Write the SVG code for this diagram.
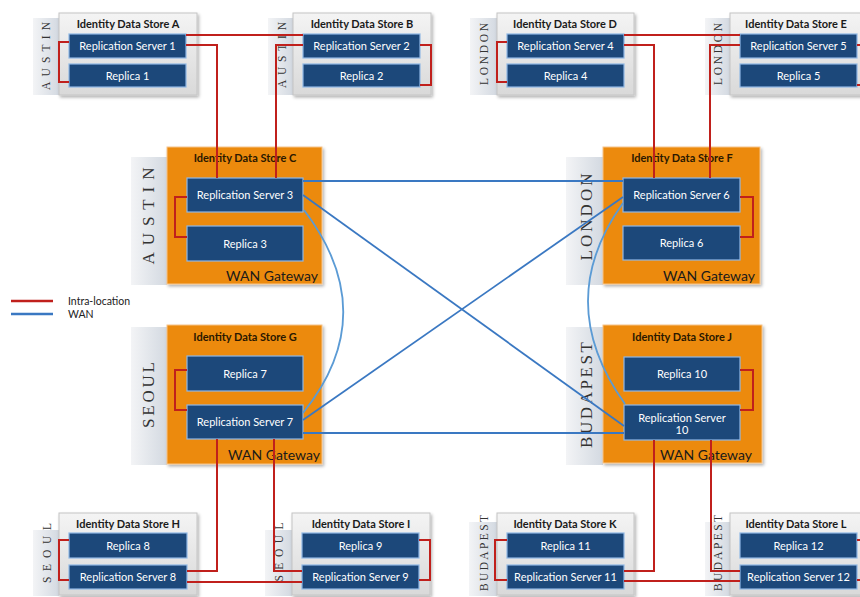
<svg xmlns="http://www.w3.org/2000/svg" width="860" height="597" viewBox="0 0 860 597">
<defs>
<linearGradient id="gBox" x1="0" y1="0" x2="0" y2="1"><stop offset="0" stop-color="#f4f4f4"/><stop offset="1" stop-color="#d9d9d9"/></linearGradient>
<linearGradient id="gCol" x1="0" y1="0" x2="1" y2="0"><stop offset="0" stop-color="#f3f4f6"/><stop offset="1" stop-color="#d3d9e1"/></linearGradient>
<filter id="sh" x="-10%" y="-10%" width="125%" height="125%"><feDropShadow dx="1.5" dy="2" stdDeviation="1.5" flood-color="#000" flood-opacity="0.3"/></filter>
</defs>
<style>
.col{fill:url(#gCol);}
.gbox{fill:url(#gBox);stroke:#c4c4c4;stroke-width:1;filter:url(#sh);}
.obox{fill:#ec8a0e;stroke:#f6c48a;stroke-width:1;filter:url(#sh);}
.srv{fill:#1c487a;stroke:#8fb8e4;stroke-width:1.2;}
.st{font-family:Lato,"Liberation Sans",sans-serif;font-size:11px;fill:#fff;text-anchor:middle;}
.tt{font-family:Lato,"Liberation Sans",sans-serif;font-size:11px;font-weight:bold;fill:#1a1a1a;text-anchor:middle;}
.to{font-family:Lato,"Liberation Sans",sans-serif;font-size:11px;font-weight:bold;fill:#2a1800;text-anchor:middle;}
.wg{font-family:Lato,"Liberation Sans",sans-serif;font-size:14px;fill:#1a1a1a;text-anchor:end;}
.loc{font-family:"Liberation Serif",serif;font-size:11.5px;fill:#333;text-anchor:middle;dominant-baseline:central;}
.locL{font-family:"Liberation Serif",serif;font-size:17px;fill:#333;text-anchor:middle;dominant-baseline:central;}
.red{fill:none;stroke:#c0201c;stroke-width:2;}
.wan{fill:none;stroke:#3a78c2;stroke-width:1.8;}
.wanc{fill:none;stroke:#5b9bd5;stroke-width:1.8;}
.lg{font-family:Lato,"Liberation Sans",sans-serif;font-size:10.5px;fill:#222;}
</style>
<rect width="860" height="597" fill="#fff"/>

<!-- Top row small stores -->
<g id="storeA">
<rect class="col" x="33" y="18" width="26" height="77"/>
<text class="loc" x="46" y="56" transform="rotate(-90 46 56)" textLength="68" lengthAdjust="spacing">AUSTIN</text>
<rect class="gbox" x="59" y="13" width="138" height="82"/>
<text class="tt" x="128" y="28">Identity Data Store A</text>
<g id="rs1"><rect class="srv" x="69" y="34" width="117" height="24"/><text class="st" x="127.5" y="50">Replication Server 1</text></g>
<g id="rep1"><rect class="srv" x="69" y="64" width="117" height="23"/><text class="st" x="127.5" y="79.5">Replica 1</text></g>
</g>
<g id="storeB">
<rect class="col" x="268" y="18" width="25" height="77"/>
<text class="loc" x="282" y="55" transform="rotate(-90 282 55)" textLength="66" lengthAdjust="spacing">AUSTIN</text>
<rect class="gbox" x="293" y="13" width="138" height="82"/>
<text class="tt" x="362" y="28">Identity Data Store B</text>
<g id="rs2"><rect class="srv" x="303" y="34" width="117" height="24"/><text class="st" x="361.5" y="50">Replication Server 2</text></g>
<g id="rep2"><rect class="srv" x="303" y="64" width="117" height="23"/><text class="st" x="361.5" y="79.5">Replica 2</text></g>
</g>
<g id="storeD">
<rect class="col" x="470" y="18" width="27" height="77"/>
<text class="loc" x="484" y="54" transform="rotate(-90 484 54)" textLength="62" lengthAdjust="spacing">LONDON</text>
<rect class="gbox" x="497" y="13" width="137" height="82"/>
<text class="tt" x="565" y="28">Identity Data Store D</text>
<g id="rs4"><rect class="srv" x="507" y="34" width="117" height="24"/><text class="st" x="565.5" y="50">Replication Server 4</text></g>
<g id="rep4"><rect class="srv" x="507" y="64" width="117" height="23"/><text class="st" x="565.5" y="79.5">Replica 4</text></g>
</g>
<g id="storeE">
<rect class="col" x="705" y="18" width="25" height="77"/>
<text class="loc" x="718" y="54" transform="rotate(-90 718 54)" textLength="62" lengthAdjust="spacing">LONDON</text>
<rect class="gbox" x="730" y="13" width="138" height="82"/>
<text class="tt" x="796" y="28">Identity Data Store E</text>
<g id="rs5"><rect class="srv" x="740" y="34" width="117" height="24"/><text class="st" x="798.5" y="50">Replication Server 5</text></g>
<g id="rep5"><rect class="srv" x="740" y="64" width="117" height="23"/><text class="st" x="798.5" y="79.5">Replica 5</text></g>
</g>

<!-- Center stores -->
<g id="storeC">
<rect class="col" x="131" y="157" width="36" height="128"/>
<text class="locL" x="148" y="216" transform="rotate(-90 148 216)" textLength="97" lengthAdjust="spacing">AUSTIN</text>
<rect class="obox" x="167" y="147" width="155" height="137"/>
<text class="to" x="245" y="162">Identity Data Store C</text>
<g id="rs3"><rect class="srv" x="187" y="178" width="116" height="34"/><text class="st" x="245" y="199">Replication Server 3</text></g>
<g id="rep3"><rect class="srv" x="187" y="226" width="116" height="35"/><text class="st" x="245" y="247.5">Replica 3</text></g>
<text class="wg" x="318" y="281">WAN Gateway</text>
</g>
<g id="storeF">
<rect class="col" x="566" y="157" width="37" height="128"/>
<text class="locL" x="586" y="217" transform="rotate(-90 586 217)" textLength="87" lengthAdjust="spacing">LONDON</text>
<rect class="obox" x="603" y="147" width="157" height="137"/>
<text class="to" x="682" y="162">Identity Data Store F</text>
<g id="rs6"><rect class="srv" x="623" y="178" width="117" height="34"/><text class="st" x="681.5" y="199">Replication Server 6</text></g>
<g id="rep6"><rect class="srv" x="623" y="226" width="117" height="34"/><text class="st" x="681.5" y="247">Replica 6</text></g>
<text class="wg" x="755" y="281">WAN Gateway</text>
</g>
<g id="storeG">
<rect class="col" x="131" y="327" width="36" height="138"/>
<text class="locL" x="148" y="395" transform="rotate(-90 148 395)" textLength="66" lengthAdjust="spacing">SEOUL</text>
<rect class="obox" x="167" y="325" width="155" height="139"/>
<text class="to" x="245" y="341">Identity Data Store G</text>
<g id="rep7"><rect class="srv" x="187" y="356" width="116" height="35"/><text class="st" x="245" y="377.5">Replica 7</text></g>
<g id="rs7"><rect class="srv" x="187" y="405" width="116" height="34"/><text class="st" x="245" y="426">Replication Server 7</text></g>
<text class="wg" x="320" y="460">WAN Gateway</text>
</g>
<g id="storeJ">
<rect class="col" x="566" y="327" width="37" height="138"/>
<text class="locL" x="586" y="395" transform="rotate(-90 586 395)" textLength="106" lengthAdjust="spacing">BUDAPEST</text>
<rect class="obox" x="603" y="325" width="159" height="138"/>
<text class="to" x="682" y="341">Identity Data Store J</text>
<g id="rep10"><rect class="srv" x="624" y="357" width="116" height="34"/><text class="st" x="682" y="378">Replica 10</text></g>
<g id="rs10"><rect class="srv" x="624" y="405" width="116" height="35"/><text class="st" x="682" y="421.5">Replication Server</text><text class="st" x="682" y="434">10</text></g>
<text class="wg" x="752" y="460">WAN Gateway</text>
</g>

<!-- Bottom row small stores -->
<g id="storeH">
<rect class="col" x="33" y="530" width="26" height="66"/>
<text class="loc" x="47" y="553" transform="rotate(-90 47 553)" textLength="60" lengthAdjust="spacing">SEOUL</text>
<rect class="gbox" x="59" y="513" width="138" height="82"/>
<text class="tt" x="128" y="528">Identity Data Store H</text>
<g id="rep8"><rect class="srv" x="69" y="533" width="118" height="25"/><text class="st" x="128" y="549.5">Replica 8</text></g>
<g id="rs8"><rect class="srv" x="69" y="565" width="118" height="24"/><text class="st" x="128" y="581">Replication Server 8</text></g>
</g>
<g id="storeI">
<rect class="col" x="265" y="530" width="27" height="66"/>
<text class="loc" x="279" y="552" transform="rotate(-90 279 552)" textLength="59" lengthAdjust="spacing">SEOUL</text>
<rect class="gbox" x="292" y="513" width="138" height="82"/>
<text class="tt" x="361" y="528">Identity Data Store I</text>
<g id="rep9"><rect class="srv" x="302" y="533" width="117" height="25"/><text class="st" x="360.5" y="549.5">Replica 9</text></g>
<g id="rs9"><rect class="srv" x="302" y="565" width="117" height="24"/><text class="st" x="360.5" y="581">Replication Server 9</text></g>
</g>
<g id="storeK">
<rect class="col" x="469" y="522" width="28" height="74"/>
<text class="loc" x="484" y="553" transform="rotate(-90 484 553)" textLength="76" lengthAdjust="spacing">BUDAPEST</text>
<rect class="gbox" x="497" y="513" width="137" height="82"/>
<text class="tt" x="565" y="528">Identity Data Store K</text>
<g id="rep11"><rect class="srv" x="507" y="533" width="117" height="25"/><text class="st" x="565.5" y="549.5">Replica 11</text></g>
<g id="rs11"><rect class="srv" x="507" y="565" width="117" height="24"/><text class="st" x="565.5" y="581">Replication Server 11</text></g>
</g>
<g id="storeL">
<rect class="col" x="705" y="522" width="25" height="74"/>
<text class="loc" x="718" y="553" transform="rotate(-90 718 553)" textLength="76" lengthAdjust="spacing">BUDAPEST</text>
<rect class="gbox" x="730" y="513" width="138" height="82"/>
<text class="tt" x="796" y="528">Identity Data Store L</text>
<g id="rep12"><rect class="srv" x="740" y="533" width="117" height="25"/><text class="st" x="798.5" y="549.5">Replica 12</text></g>
<g id="rs12"><rect class="srv" x="740" y="565" width="117" height="24"/><text class="st" x="798.5" y="581">Replication Server 12</text></g>
</g>

<!-- Connectors -->
<g id="connectors">
<!-- intra-location -->
<path class="red" d="M186,35 H303"/>
<path class="red" d="M186,45 H217 V178"/>
<path class="red" d="M303,45 H276 V178"/>
<path class="red" d="M69,42 H59 V82 H69"/>
<path class="red" d="M420,45 H431 V85 H420"/>
<path class="red" d="M624,35 H740"/>
<path class="red" d="M624,45 H654 V178"/>
<path class="red" d="M740,45 H710 V178"/>
<path class="red" d="M507,42 H497 V82 H507"/>
<path class="red" d="M857,45 H868 V85 H857"/>
<path class="red" d="M187,197 H175 V237 H187"/>
<path class="red" d="M740,197 H753 V237 H740"/>
<path class="red" d="M187,370 H175 V410 H187"/>
<path class="red" d="M740,370 H753 V410 H740"/>
<path class="red" d="M217,439 V571 H187"/>
<path class="red" d="M274,439 V571 H302"/>
<path class="red" d="M187,582 H302"/>
<path class="red" d="M69,540 H59 V580 H69"/>
<path class="red" d="M419,540 H430 V580 H419"/>
<path class="red" d="M654,440 V571 H624"/>
<path class="red" d="M711,440 V571 H740"/>
<path class="red" d="M624,581 H740"/>
<path class="red" d="M507,540 H495 V580 H507"/>
<path class="red" d="M857,540 H868 V580 H857"/>
<!-- WAN -->
<path class="wan" d="M303,181 H623"/>
<path class="wan" d="M303,195 L624,426"/>
<path class="wan" d="M303,420 L623,197"/>
<path class="wan" d="M303,433 H624"/>
<path class="wanc" d="M304,210 Q383,314 303,413"/>
<path class="wanc" d="M623,203 Q552,302 625,404"/>
</g>

<!-- Legend -->
<g id="legend">
<path d="M11,301 H53" stroke="#c0201c" stroke-width="2.5"/>
<path d="M11,314 H53" stroke="#3a78c2" stroke-width="2.5"/>
<text class="lg" x="68" y="305">Intra-location</text>
<text class="lg" x="68" y="318">WAN</text>
</g>
</svg>
